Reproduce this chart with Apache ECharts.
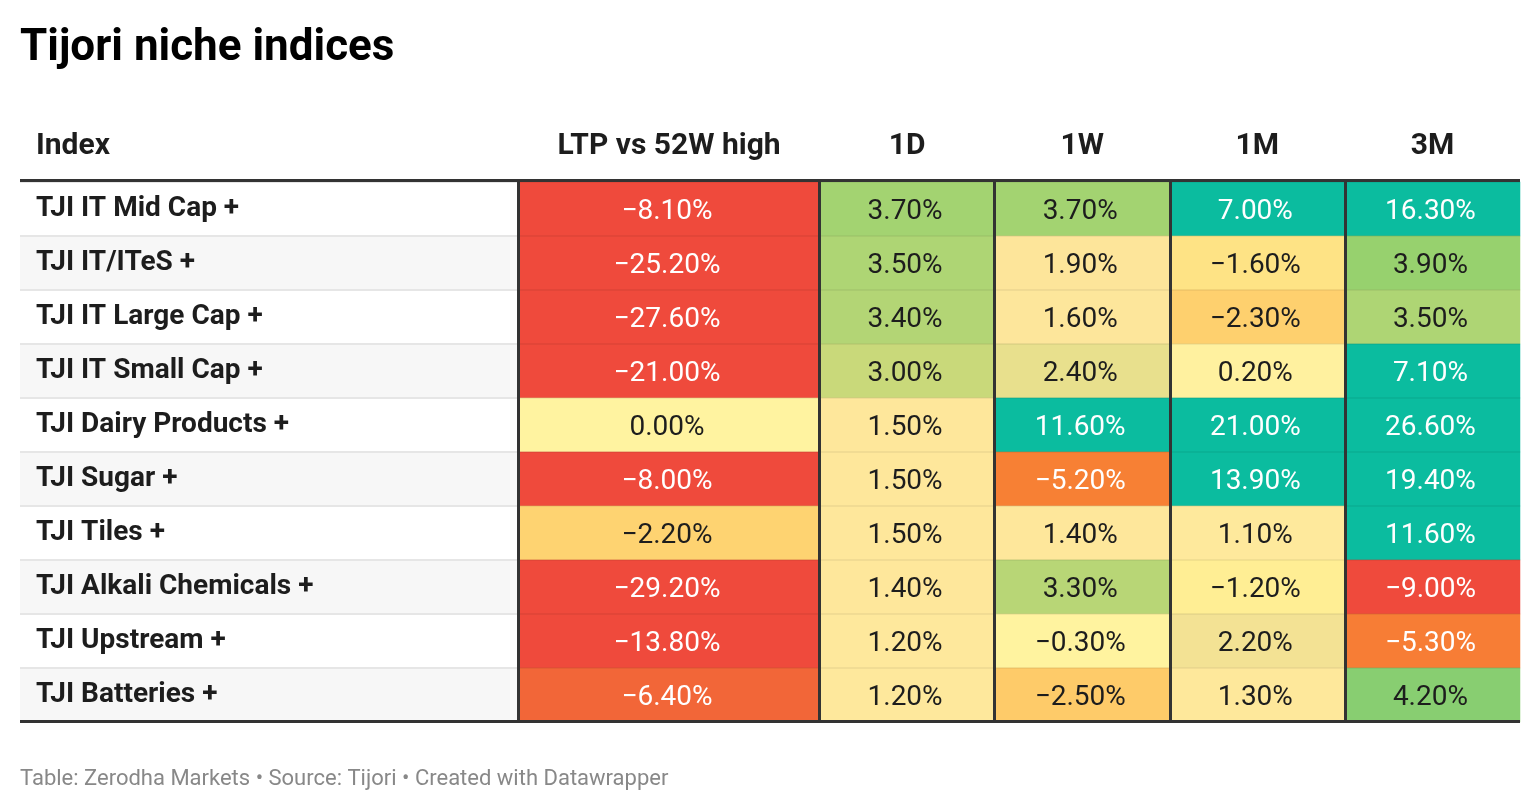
<!DOCTYPE html>
<html>
<head>
<meta charset="utf-8">
<script src="https://cdn.jsdelivr.net/npm/echarts@6/dist/echarts.min.js"></script>
<style>
	html, body { margin: 0; padding: 0; background: #fff; }
	#main { width: 1540px; height: 810px; }
</style>
</head>
<body>
<div id="main"></div>
<script>
	var indices = ['TJI IT Mid Cap +', 'TJI IT/ITeS +', 'TJI IT Large Cap +', 'TJI IT Small Cap +', 'TJI Dairy Products +',
		'TJI Sugar +', 'TJI Tiles +', 'TJI Alkali Chemicals +', 'TJI Upstream +', 'TJI Batteries +']
	var ltpVs52wHigh = [-8.1, -25.2, -27.6, -21.0, 0.0, -8.0, -2.2, -29.2, -13.8, -6.4]
	var periods = ['1D', '1W', '1M', '3M']
	var change1D = [3.7, 3.5, 3.4, 3.0, 1.5, 1.5, 1.5, 1.4, 1.2, 1.2]
	var change1W = [3.7, 1.9, 1.6, 2.4, 11.6, -5.2, 1.4, 3.3, -0.3, -2.5]
	var change1M = [7.0, -1.6, -2.3, 0.2, 21.0, 13.9, 1.1, -1.2, 2.2, 1.3]
	var change3M = [16.3, 3.9, 3.5, 7.1, 26.6, 19.4, 11.6, -9.0, -5.3, 4.2]

	var font = 'Roboto, "Liberation Sans", sans-serif'
	var dark = '#1d1d1d'
	var ruleColor = '#333'

	function fmt(v) {
		var s = Math.abs(v).toFixed(2) + '%'
		return v < 0 ? '\u2212' + s : s
	}

	// white text on the strong reds / oranges / teals
	function cell(x, y, v) {
		var light = v <= -4 || v >= 6
		return {
			value: [x, y, v],
			label: { color: light ? '#fff' : dark }
		}
	}

	var ltpData = ltpVs52wHigh.map(function(v, i) { return cell(0, i, v) })
	var periodData = []
	;[change1D, change1W, change1M, change3M].forEach(function(col, c) {
		col.forEach(function(v, i) { periodData.push(cell(c, i, v)) })
	})

	var tableTop = 182, rowsHeight = 540

	function cellLabel() {
		return {
			show: true,
			fontFamily: font,
			fontSize: 28,
			offset: [-2, 3],
			formatter: function(p) { return fmt(p.value[2]) }
		}
	}

	function hiddenY(gridIndex) {
		return {
			type: 'category',
			gridIndex: gridIndex,
			data: indices,
			inverse: true,
			z: 5,
			axisLine: { show: false },
			axisTick: { show: false },
			axisLabel: { show: false },
			splitLine: { show: true, lineStyle: { color: 'rgba(0,0,0,0.07)', width: 1.5 } }
		}
	}

	function headerLabel() {
		return {
			fontFamily: font,
			fontSize: 30,
			fontWeight: 'bold',
			color: dark,
			margin: 21
		}
	}

	var chart = echarts.init(document.getElementById('main'))
	chart.setOption({
		animation: false,
		title: [
			{
				text: 'Tijori niche indices',
				left: 20, top: 27, padding: 0,
				textStyle: { fontFamily: font, fontSize: 44, fontWeight: 'bold', color: '#000' }
			},
			{
				text: 'Index',
				left: 36, top: 131, padding: 0,
				textStyle: { fontFamily: font, fontSize: 30, fontWeight: 'bold', color: dark }
			},
			{
				text: 'Table: Zerodha Markets \u2022 Source: Tijori \u2022 Created with Datawrapper',
				left: 20, top: 768, padding: 0,
				textStyle: { fontFamily: font, fontSize: 22, fontWeight: 'normal', color: '#888' }
			}
		],
		grid: [
			{ left: 20, top: tableTop, width: 498, height: rowsHeight },
			{ left: 518.5, top: tableTop, width: 301, height: rowsHeight },
			{ left: 819.5, top: tableTop, width: 700.5, height: rowsHeight }
		],
		xAxis: [
			{
				type: 'category', gridIndex: 0, data: [''], show: false
			},
			{
				type: 'category', gridIndex: 1, data: ['LTP vs 52W high'], position: 'top', z: 6,
				axisLine: { show: false }, axisTick: { show: false },
				axisLabel: headerLabel(),
				splitLine: { show: true, lineStyle: { color: ruleColor, width: 3 } }
			},
			{
				type: 'category', gridIndex: 2, data: periods, position: 'top', z: 6,
				axisLine: { show: false }, axisTick: { show: false },
				axisLabel: headerLabel(),
				splitLine: { show: true, showMinLine: false, showMaxLine: false, lineStyle: { color: ruleColor, width: 3 } }
			}
		],
		yAxis: [
			{
				type: 'category',
				gridIndex: 0,
				data: indices,
				inverse: true,
				axisLine: { show: false },
				axisTick: { show: false },
				axisLabel: {
					inside: true,
					margin: 16,
					padding: [5, 0, 0, 0],
					fontFamily: font,
					fontSize: 28,
					fontWeight: 'bold',
					color: dark
				},
				splitArea: { show: true, areaStyle: { color: ['#ffffff', '#f7f7f7'] } },
				splitLine: { show: true, lineStyle: { color: '#e6e6e6', width: 2 } }
			},
			hiddenY(1),
			hiddenY(2)
		],
		visualMap: {
			show: false,
			type: 'continuous',
			seriesIndex: [0, 1],
			dimension: 2,
			min: -9,
			max: 7,
			inRange: {
				color: ['#ef4a3c', '#ef4a3c', '#f05a3a', '#f36e36', '#f88434', '#fba445', '#fdbd5c', '#fed876',
					'#fff39c', '#fff3a0', '#fee99c', '#fde49a', '#c9d97a', '#92d06d', '#5ec883', '#30c191', '#0bbc9f']
			}
		},
		series: [
			{
				type: 'heatmap',
				xAxisIndex: 1, yAxisIndex: 1,
				data: ltpData,
				label: cellLabel(),
				emphasis: { disabled: true }
			},
			{
				type: 'heatmap',
				xAxisIndex: 2, yAxisIndex: 2,
				data: periodData,
				label: cellLabel(),
				emphasis: { disabled: true }
			}
		],
		graphic: [
			{ type: 'rect', shape: { x: 20, y: 179, width: 1500, height: 3 }, style: { fill: ruleColor }, z: 10 },
			{ type: 'rect', shape: { x: 20, y: 720, width: 1500, height: 3 }, style: { fill: ruleColor }, z: 10 }
		]
	})
</script>
</body>
</html>
